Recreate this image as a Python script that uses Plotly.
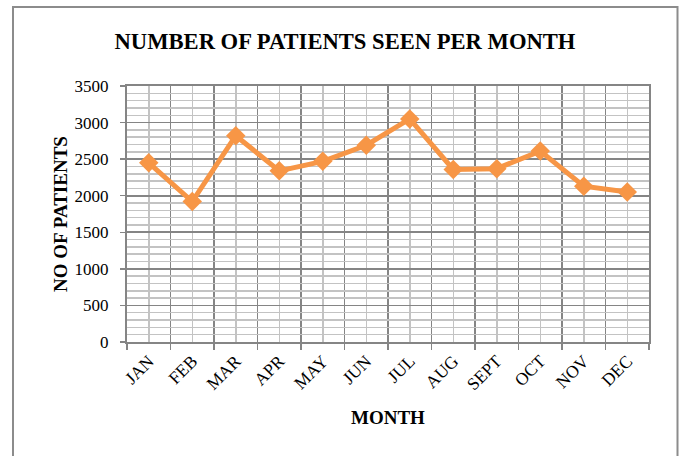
import plotly.graph_objects as go

months = ["JAN", "FEB", "MAR", "APR", "MAY", "JUN", "JUL", "AUG", "SEPT", "OCT", "NOV", "DEC"]
patients = [2450, 1920, 2820, 2340, 2470, 2690, 3050, 2360, 2370, 2610, 2130, 2050]
y_range = [0, 3500]
y_step = 500
y_minor_step = 100

title_text = "NUMBER OF PATIENTS SEEN PER MONTH"
x_title = "MONTH"
y_title = "NO OF PATIENTS"

ORANGE = "#F79646"
DARK = "#858585"
LIGHT = "#C3C3C3"
FONT = "Liberation Serif"

xs = list(range(len(months)))

fig = go.Figure(
    go.Scatter(
        x=xs,
        y=patients,
        mode="lines+markers",
        line=dict(color=ORANGE, width=5),
        marker=dict(symbol="diamond", size=15, color=ORANGE),
        hoverinfo="skip",
    )
)

fig.update_layout(
    width=680,
    height=456,
    paper_bgcolor="white",
    plot_bgcolor="white",
    margin=dict(l=127, r=31, t=86, b=114),
    showlegend=False,
    font=dict(family=FONT, color="black", size=18),
    title=dict(
        text="<b>" + title_text + "</b>",
        font=dict(family=FONT, size=22.6, color="black"),
        x=345 / 680,
        xanchor="center",
        xref="container",
        y=1 - 41 / 456,
        yanchor="middle",
        yref="container",
    ),
    xaxis=dict(
        range=[-0.5, len(months) - 0.5],
        tickmode="array",
        tickvals=xs,
        ticktext=months,
        tickangle=-45,
        tickfont=dict(family=FONT, size=17.5, color="black"),
        ticks="",
        showgrid=True,
        gridcolor=LIGHT,
        gridwidth=1.5,
        minor=dict(
            tickmode="linear",
            tick0=-0.5,
            dtick=1,
            showgrid=True,
            gridcolor=DARK,
            gridwidth=1.6,
            ticks="outside",
            ticklen=6,
            tickcolor=DARK,
            tickwidth=1.5,
        ),
        showline=True,
        linecolor=DARK,
        linewidth=2,
        mirror=True,
        zeroline=False,
        ticklabelstandoff=0,
        fixedrange=True,
    ),
    yaxis=dict(
        range=y_range,
        tickmode="linear",
        tick0=0,
        dtick=y_step,
        tickfont=dict(family=FONT, size=17, color="black"),
        ticks="outside",
        ticklen=5,
        tickcolor=DARK,
        tickwidth=1.5,
        showgrid=True,
        gridcolor=DARK,
        gridwidth=1.6,
        minor=dict(
            dtick=y_minor_step,
            showgrid=True,
            gridcolor=LIGHT,
            gridwidth=1.5,
        ),
        showline=True,
        linecolor=DARK,
        linewidth=2,
        mirror=True,
        zeroline=False,
        ticklabelstandoff=8,
        fixedrange=True,
    ),
    annotations=[
        dict(
            text="<b>" + x_title + "</b>",
            xref="paper", yref="paper",
            x=0.5, y=0,
            xanchor="center", yanchor="middle",
            yshift=-75.5,
            showarrow=False,
            font=dict(family=FONT, size=19, color="black"),
        ),
        dict(
            text="<b>" + y_title + "</b>",
            xref="paper", yref="paper",
            x=0, y=0.5,
            xanchor="center", yanchor="middle",
            xshift=-67,
            textangle=-90,
            showarrow=False,
            font=dict(family=FONT, size=19, color="black"),
        ),
    ],
    shapes=[
        dict(
            type="rect",
            xref="paper", yref="paper",
            x0=(13 - 127) / 522, x1=(677.5 - 127) / 522,
            y0=(342 - 480) / 256, y1=(342 - 7) / 256,
            line=dict(color="#8C8C8C", width=2),
            fillcolor="rgba(0,0,0,0)",
            layer="below",
        )
    ],
)

fig.write_html(
    "out.html",
    config={"displayModeBar": False, "staticPlot": True},
    post_script="document.body.style.margin='0';document.body.style.overflow='hidden';",
)
